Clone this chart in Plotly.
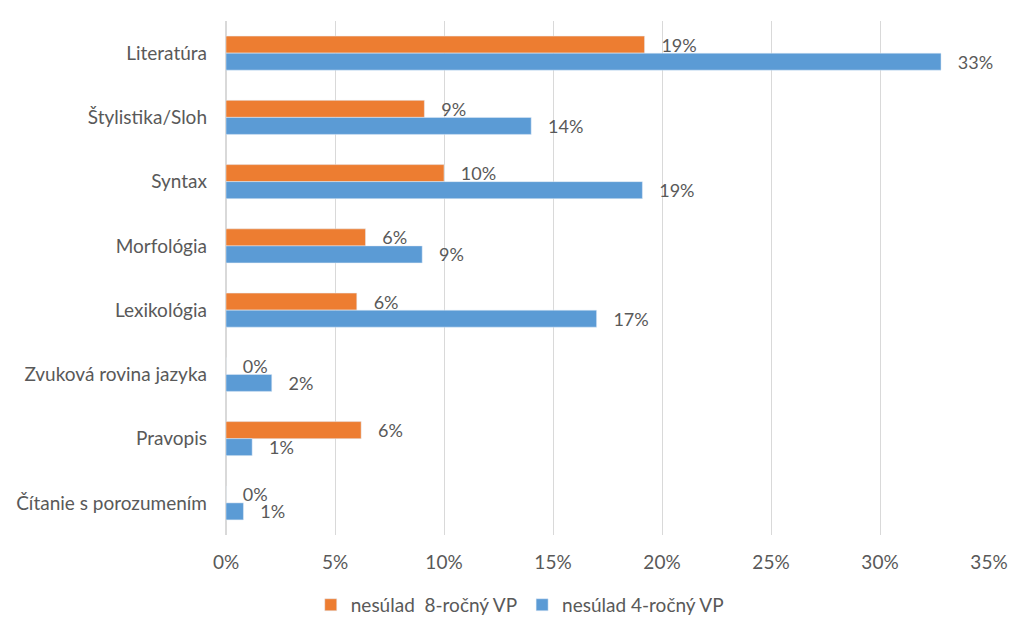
import plotly.graph_objects as go

categories = ["Literatúra", "Štylistika/Sloh", "Syntax", "Morfológia", "Lexikológia",
              "Zvuková rovina jazyka", "Pravopis", "Čítanie s porozumením"]
series_8 = [0.192, 0.091, 0.100, 0.064, 0.060, 0.0, 0.062, 0.0]
series_4 = [0.328, 0.140, 0.191, 0.090, 0.170, 0.021, 0.012, 0.008]
name_8 = "nesúlad\u00a0 8-ročný VP"
name_4 = "nesúlad 4-ročný VP"
tick_vals = [0, 0.05, 0.10, 0.15, 0.20, 0.25, 0.30, 0.35]

FONT = "Lato, 'Open Sans', sans-serif"
GRAY = "#595959"
LABEL_TPL = "\u00a0\u00a0\u00a0%{x:.0%}"

fig = go.Figure()
fig.add_trace(go.Bar(y=categories, x=series_8, orientation="h", name=name_8,
                     marker_color="#ED7D31", texttemplate=LABEL_TPL, textposition="outside",
                     constraintext="none",
                     textfont=dict(family=FONT, size=18, color=GRAY), cliponaxis=False))
fig.add_trace(go.Bar(y=categories, x=series_4, orientation="h", name=name_4,
                     marker_color="#5B9BD5", texttemplate=LABEL_TPL, textposition="outside",
                     constraintext="none",
                     textfont=dict(family=FONT, size=18, color=GRAY), cliponaxis=False))

fig.update_layout(
    width=1024, height=639,
    barmode="group", bargap=0.47, bargroupgap=0,
    plot_bgcolor="white", paper_bgcolor="white",
    margin=dict(l=226, r=35, t=21, b=104),
    font=dict(family=FONT, size=19, color=GRAY),
    legend=dict(orientation="h", x=0.385, xanchor="center", y=-0.136, yanchor="middle",
                font=dict(family=FONT, size=19, color=GRAY), itemwidth=30, traceorder="normal"),
    xaxis=dict(range=[0, 0.35], tickvals=tick_vals, tickformat=".0%",
               showgrid=True, gridcolor="#D9D9D9", gridwidth=1, zeroline=True,
               zerolinecolor="#D9D9D9", showline=False, ticks="", ticklabelstandoff=14),
    yaxis=dict(autorange="reversed", showgrid=False, ticks="", showline=False,
               ticklabelstandoff=18),
)
fig.write_html("out.html", config={"displayModeBar": False},
               post_script="document.body.style.margin='0';")
